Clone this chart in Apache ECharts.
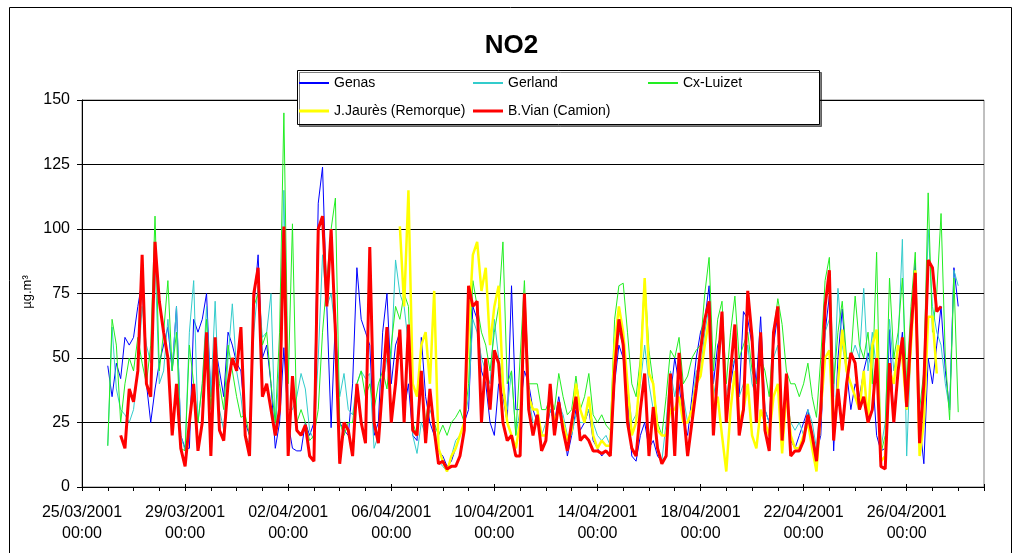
<!DOCTYPE html>
<html>
<head>
<meta charset="utf-8">
<script src="https://cdn.jsdelivr.net/npm/echarts@6/dist/echarts.min.js"></script>
<style>
html,body{margin:0;padding:0;background:#fff;}
#chart{width:1023px;height:553px;}
</style>
</head>
<body>
<div id="chart"></div>
<script>
// ---- DATA (x in days since 25/03/2001 00:00, 4-hour steps) ----
const STEP = 1 / 6;
const xTickLabels = ['25/03/2001\n00:00','29/03/2001\n00:00','02/04/2001\n00:00','06/04/2001\n00:00','10/04/2001\n00:00','14/04/2001\n00:00','18/04/2001\n00:00','22/04/2001\n00:00','26/04/2001\n00:00'];
const seriesNames = ['Genas','Gerland','Cx-Luizet','J.Jaurès (Remorque)','B.Vian (Camion)'];

const genasStart = 1;
const genas = [
47,35,48,42,58,55, 58,70,80,40,25,38, 48,55,62,45,70,20, 15,15,65,60,65,75, 35,55,45,35,60,55,
48,45,25,20,70,90, 50,55,40,15,25,54, 25,15,14,14,25,20, 25,110,124,70,23,65, 25,22,20,40,85,65,
60,55,20,25,60,75, 40,55,60,30,40,20, 18,58,35,25,20,14, 12,8,10,15,20,25, 30,70,65,45,40,25,
20,40,35,25,78,30, 30,45,40,30,25,20, 20,30,25,35,25,12, 20,30,22,25,30,18, 15,12,14,13,40,55,
50,35,12,10,20,25, 15,18,12,10,12,35, 50,40,25,20,35,50, 60,65,78,40,55,60, 30,40,50,35,68,65,
55,40,66,30,25,55, 67,20,35,18,15,20, 25,30,20,13,20,60, 74,14,50,69,45,30, 40,35,45,52,45,20,
14,15,61,25,45,60, 30,60,87,25,9,50, 40,55,70,45,30,85, 70];

const gerlandStart = 1;
const gerland = [
16,62,38,30,28,25, 30,45,70,55,48,88, 40,45,65,45,70,20, 14,60,80,25,40,70, 35,72,30,22,50,71,
45,35,20,17,60,78, 58,60,75,20,50,115, 30,30,35,44,38,22, 18,50,90,70,75,60, 35,44,30,28,40,45,
42,44,15,20,40,50, 50,88,75,70,55,20, 13,25,20,30,25,10, 8,6,12,18,20,25, 35,65,60,50,45,40,
65,50,40,30,45,20, 30,60,35,25,25,20, 25,30,25,32,28,20, 20,28,25,25,30,25, 20,18,20,16,50,60,
55,40,25,28,40,55, 40,30,15,10,25,45, 35,45,35,25,30,45, 45,60,70,35,45,60, 35,45,50,35,40,55,
40,35,55,30,25,50, 55,25,35,25,22,25, 20,30,25,15,35,60, 65,35,77,55,45,50, 55,50,77,45,60,45,
15,25,65,45,55,96, 12,55,80,20,40,100, 70,60,55,40,30,84, 78];

const luizetStart = 1;
const luizet = [
16,65,55,25,40,50, 45,58,48,40,55,105, 45,60,80,45,60,15, 14,55,40,25,40,65, 30,55,40,30,55,45,
35,27,28,20,70,75, 55,60,40,25,60,145, 40,102,25,30,25,18, 20,30,60,80,100,112, 25,20,25,25,40,45,
35,40,30,40,45,38, 55,70,65,75,70,25, 20,40,25,38,25,20, 24,20,25,27,30,25, 40,80,70,60,55,45,
60,70,95,40,45,20, 50,80,40,40,40,30, 30,35,30,44,35,28, 30,43,30,35,44,28, 25,28,24,22,65,78,
79,60,40,35,50,81, 53,40,25,20,35,53, 50,58,40,43,50,53, 55,75,89,45,65,72, 40,60,74,50,55,60,
45,40,50,45,35,60, 73,63,45,40,40,35, 40,48,35,27,50,80, 89,40,60,72,50,50, 74,55,50,60,40,91,
13,20,81,50,60,81, 40,70,91,30,45,114, 60,75,106,50,26,81, 29];

const jauresStart = 12 + 8 / 24;
const jaures = [
101,70,115,40, 35,55,60,40,76,15, 10,6,12,15,20,25, 60,90,95,76,85,55, 70,78,40,25,20,15,
25,71,35,30,30,20, 20,36,25,30,25,18, 22,40,30,25,35,20, 15,18,16,16,55,70, 60,40,20,25,45,81,
44,40,22,20,20,30, 30,35,25,25,30,40, 43,55,65,30,35,20, 6,30,45,25,30,40, 20,15,30,25,20,35,
40,13,37,20,15,15, 20,25,15,6,30,50, 53,20,40,61,45,40, 35,30,45,25,55,61, 10,12,45,40,55,50,
30,55,84,12,25,66, 66,44];

const vianStart = 1 + 12 / 24;
const vian = [
20,15,38, 33,45,90,40,35,95, 72,60,50,20,40,15, 8,25,40,14,25,60, 12,58,22,18,40,50,
45,62,20,12,75,85, 35,40,30,20,30,101, 12,43,22,20,24,12, 10,100,105,70,100,60, 9,25,22,12,40,25,
17,93,25,17,40,62, 25,40,61,25,63,22, 20,45,17,38,22,9, 10,7,8,8,12,22, 78,70,72,25,50,30,
53,48,25,18,20,12, 12,75,30,20,28,14, 18,40,20,33,22,14, 25,35,18,20,18,14, 14,13,14,12,45,65,
55,25,15,12,30,44, 12,31,15,9,12,44, 12,52,30,12,25,38, 53,65,72,20,45,68, 25,45,63,20,30,76,
58,25,60,22,14,60, 70,18,44,12,14,14, 18,28,20,10,30,70, 84,18,38,22,40,52, 48,30,35,25,30,50,
8,7,48,25,45,58, 31,60,83,17,40,88, 85,68,70];

// ---- CHART ----
const FONT = 'Liberation Sans, Arial, sans-serif';
function toPairs(arr, start) { return arr.map((v, i) => [start + i * STEP, v]); }

const colors = ['#0000ff', '#33cccc', '#22ee22', '#ffff00', '#ff0000'];
const widths = [1, 1, 1, 2.5, 3];
const legendIconH = [2, 2, 2, 3, 3];
const datasets = [toPairs(genas, genasStart), toPairs(gerland, gerlandStart), toPairs(luizet, luizetStart), toPairs(jaures, jauresStart), toPairs(vian, vianStart)];

const legendPos = [[299, 76], [473, 76], [648, 76], [299, 104], [473, 104]];

const chart = echarts.init(document.getElementById('chart'), null, { renderer: 'canvas' });
const axisBase = { type: 'value', min: 0, max: 35, gridIndex: 0, position: 'bottom' };
chart.setOption({
  animation: false,
  backgroundColor: '#fff',
  title: { text: 'NO2', left: 'center', top: 33, padding: 0, textStyle: { fontFamily: FONT, fontSize: 26, fontWeight: 'bold', color: '#000' } },
  grid: { left: 82, right: 39, top: 100, bottom: 66, show: true, borderColor: '#808080', borderWidth: 1, backgroundColor: 'transparent' },
  legend: seriesNames.map((n, i) => ({
    data: [n], left: legendPos[i][0], top: legendPos[i][1], padding: 0, icon: 'rect',
    itemWidth: 30, itemHeight: legendIconH[i], itemGap: 5,
    textStyle: { fontFamily: FONT, fontSize: 14, color: '#000' }, selectedMode: false, z: 6
  })),
  xAxis: [
    Object.assign({}, axisBase, {
      interval: 4,
      axisLine: { show: true, lineStyle: { color: '#000', width: 1 } },
      axisTick: { show: true, inside: false, length: 4, lineStyle: { color: '#000' } },
      splitLine: { show: false },
      axisLabel: {
        showMaxLabel: false, margin: 15, lineHeight: 21, fontFamily: FONT, fontSize: 16, color: '#000',
        formatter: v => (Math.abs(v % 4) < 1e-6 ? (xTickLabels[Math.round(v / 4)] || '') : '')
      }
    }),
    Object.assign({}, axisBase, {
      interval: 4,
      axisLine: { show: false }, axisLabel: { show: false }, splitLine: { show: false },
      axisTick: { show: true, inside: true, length: 3, lineStyle: { color: '#000' } }
    }),
    Object.assign({}, axisBase, {
      interval: 1,
      axisLine: { show: false }, axisLabel: { show: false }, splitLine: { show: false },
      axisTick: { show: true, inside: false, length: 4, lineStyle: { color: '#000' } }
    })
  ],
  yAxis: {
    type: 'value', min: 0, max: 150, interval: 25,
    axisLine: { show: true, lineStyle: { color: '#000', width: 1 } },
    axisTick: { show: true, inside: false, length: 5, lineStyle: { color: '#000' } },
    axisLabel: { margin: 12, fontFamily: FONT, fontSize: 16, color: '#000' },
    splitLine: { show: true, lineStyle: { color: '#000', width: 1 } }
  },
  graphic: [
    { type: 'rect', shape: { x: 9.5, y: 7.5, width: 1002, height: 560 }, style: { fill: 'none', stroke: '#000', lineWidth: 1 }, z: 0, silent: true },
    { type: 'rect', shape: { x: 297.5, y: 70.5, width: 522, height: 54 }, style: { fill: '#fff', stroke: '#000', lineWidth: 1, shadowColor: 'rgba(0,0,0,0.5)', shadowOffsetX: 2, shadowOffsetY: 2, shadowBlur: 0 }, z: 5, silent: true },
    { type: 'text', x: 27, y: 292, rotation: Math.PI / 2, style: { text: 'µg.m³', fontFamily: FONT, fontSize: 13, fill: '#000', textAlign: 'center', textVerticalAlign: 'middle' }, z: 5, silent: true }
  ],
  series: seriesNames.map((n, i) => ({
    name: n, type: 'line', data: datasets[i], xAxisIndex: 0, yAxisIndex: 0,
    symbol: 'none', showSymbol: false, smooth: false, connectNulls: false,
    lineStyle: { color: colors[i], width: widths[i] }, itemStyle: { color: colors[i] },
    z: 2 + i * 0.1
  }))
});
</script>
</body>
</html>
